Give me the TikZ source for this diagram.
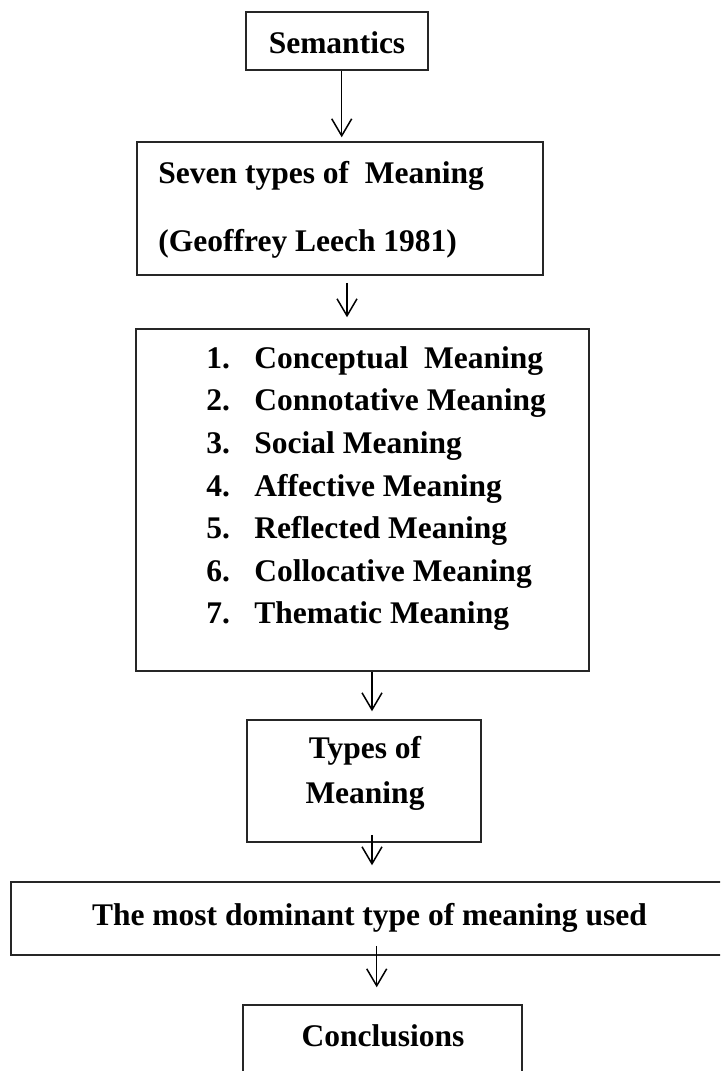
\documentclass[tikz,border=0pt]{standalone}
\usepackage{fontspec}
\setmainfont{Liberation Serif}
\usetikzlibrary{arrows.meta,calc}
\tikzset{
  box/.style={draw=black!85, line width=0.75pt, rectangle, inner sep=0pt},
  lbl/.style={inner sep=0pt, font=\fontsize{15.75pt}{18pt}\selectfont\bfseries},
  arr/.style={draw=black, line width=0.75pt, -{Straight Barb[length=8.5pt,width=10pt,line width=0.75pt]}}
}
\begin{document}
\begin{tikzpicture}[x=0.5pt,y=-0.5pt]
\clip (0,0) rectangle (720,1071);
\fill[white] (0,0) rectangle (720,1071);
% boxes
\node[box, minimum width=91pt, minimum height=29pt] (sem) at (337,41) {};
\node[box, minimum width=203pt, minimum height=66.5pt] (seven) at (340,208.5) {};
\node[box, minimum width=226.5pt, minimum height=171pt] (list) at (362.5,500) {};
\node[box, minimum width=117pt, minimum height=61pt] (types) at (364,781) {};
\node[box, minimum width=359.5pt, minimum height=36.5pt] (dom) at (370.5,918.5) {};
\node[box, minimum width=139.5pt, minimum height=37.5pt] (concl) at (382.5,1042.5) {};
% texts
\node[lbl, anchor=base] (tsem) at (337,53) {Semantics};
\node[lbl, anchor=base west] (ts1) at (158,183) {Seven types of\ \ Meaning};
\node[lbl, anchor=base west] (ts2) at (158,251) {(Geoffrey Leech 1981)};
\foreach \n/\t/\y in {1/{Conceptual\ \ Meaning}/368,2/{Connotative Meaning}/410.5,3/{Social Meaning}/453.5,4/{Affective Meaning}/496,5/{Reflected Meaning}/538.5,6/{Collocative Meaning}/581,7/{Thematic Meaning}/623}{
  \node[lbl, anchor=base west] (num\n) at (206,\y) {\n.};
  \node[lbl, anchor=base west] (item\n) at (254,\y) {\t};
}
\node[lbl, anchor=base] (tt1) at (365,758) {Types of};
\node[lbl, anchor=base] (tt2) at (365,803) {Meaning};
\node[lbl, anchor=base] (tdom) at (369.5,925) {The most dominant type of meaning used};
\node[lbl, anchor=base] (tconcl) at (383,1046) {Conclusions};
% arrow start points
\coordinate (a1) at ($(sem.south)+(4.7,0)$);
\coordinate (a2) at ($(seven.south)+(7,0)$);
\coordinate (a3) at ($(list.south)+(9.5,0)$);
\coordinate (a4) at ($(types.south)+(8,0)$);
\coordinate (a5) at ($(dom.south)+(6.2,0)$);
% arrows
\draw[arr, shorten >=2pt] (a1) -- (a1 |- seven.north);
\draw[arr, shorten <=3.5pt, shorten >=5.5pt] (a2) -- (a2 |- list.north);
\draw[arr, shorten >=4pt] (a3) -- (a3 |- types.north);
\draw[arr, shorten <=-4pt, shorten >=8pt] (a4) -- (a4 |- dom.north);
\draw[arr, shorten <=-5pt, shorten >=8.5pt] (a5) -- (a5 |- concl.north);
\end{tikzpicture}
\end{document}
